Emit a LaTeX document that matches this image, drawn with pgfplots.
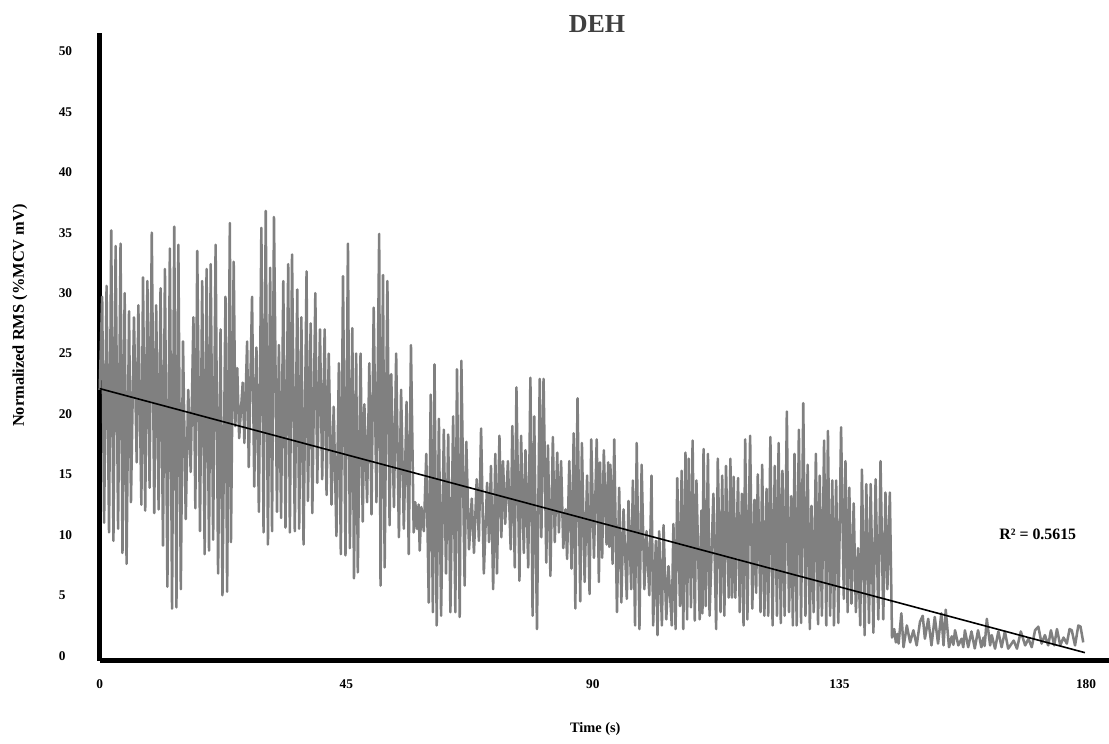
\documentclass[border=0pt]{standalone}
\usepackage{fontspec}
\setmainfont{Liberation Serif}
\usepackage{pgfplots}
\pgfplotsset{compat=1.18}
\definecolor{sig}{RGB}{128,128,128}
\definecolor{ttl}{RGB}{64,64,64}
\begin{document}
\begin{tikzpicture}
\path[use as bounding box] (-74.8pt,-62.6pt) rectangle (757pt,495.4pt);
\begin{axis}[
  at={(0,0)}, anchor=south west,
  scale only axis, width=757pt, height=470.4pt,
  xmin=0, xmax=184.2, ymin=-0.4, ymax=51.5,
  axis x line=bottom, axis y line=left,
  axis line style={line width=3.4pt,-,black},
  xtick={0,45,90,135,180}, ytick={0,5,...,50},
  major tick length=0pt, tick style={draw=none},
  /pgf/number format/assume math mode=true,
  ticklabel style={font=\bfseries\fontsize{10}{12}\selectfont, inner sep=0pt},
  xticklabel style={anchor=north, yshift=-14.25pt},
  yticklabel style={anchor=west, xshift=-30.9pt},
  title={DEH},
  title style={at={(axis description cs:0.4927,1.0148)}, anchor=center, yshift=-6pt, font=\bfseries\fontsize{19.5}{23}\selectfont, text=ttl, inner sep=0pt},
  xlabel={Time (s)},
  xlabel style={at={(axis description cs:0.491,-0.109)}, anchor=center, font=\bfseries\fontsize{10.8}{13}\selectfont, inner sep=0pt},
  ylabel={Normalized RMS (\%MCV mV)},
  ylabel style={at={(axis description cs:-0.079,0.372)}, anchor=west, rotate=0, font=\bfseries\fontsize{12.3}{14}\selectfont, inner sep=0pt},
  clip=false,
]
\addplot[sig, line width=1.9pt, line join=round, no marks] coordinates {
(0,22)(0.45,29.7)(0.8,11)(1.25,30.6)(1.7,10.2)(2.1,35.2)(2.5,9.5)(2.9,33.9)(3.35,10.5)(3.8,34.1)(4.15,8.5)(4.55,30)(4.9,7.6)(5.35,28.5)(5.7,12.7)(6.25,28)(6.75,16)(7.05,29)(7.6,12.5)(7.9,31.3)(8.3,12)(8.7,31)(9.1,13.9)(9.5,35)(9.95,11.8)(10.3,29)(10.75,12.1)(11.1,30.4)(11.55,9.1)(11.9,32)(12.35,5.7)(12.8,33.7)(13.2,3.9)(13.6,35.5)(14,4)(14.35,34)(14.8,5.5)(15.2,26)(15.7,11.3)(16.15,22)(16.6,15.2)(17.1,28)(17.45,12.2)(17.8,33.5)(18.3,10.3)(18.7,31)(19.15,8.4)(19.5,32)(19.95,8.7)(20.25,32.4)(20.7,9.6)(21.15,34)(21.6,6.8)(22.05,27)(22.4,5)(22.95,29.7)(23.25,5.3)(23.75,35.8)(23.95,9.4)(24.45,32.6)(24.75,19)(25.1,23.8)(25.45,18)(26.1,22.6)(26.4,17.6)(26.9,26)(27.2,15.6)(27.8,29.7)(28.2,14)(28.6,25.5)(29.05,11.9)(29.5,35.4)(29.9,10.2)(30.3,36.8)(30.7,9.2)(31.1,32.1)(31.45,10.3)(31.8,36.3)(32.35,11.9)(32.7,25.7)(33.1,11.4)(33.5,31)(33.9,10.6)(34.4,32.4)(34.7,10.2)(35.1,33.2)(35.6,10.3)(36.05,30.3)(36.4,10.5)(36.8,28)(37.2,9.2)(37.75,31.8)(38,12.8)(38.5,27.5)(38.8,11.8)(39.35,30)(39.7,14.3)(40.2,27)(40.6,14.6)(41.05,27)(41.4,13.3)(41.8,25)(42.3,12.5)(42.7,20.6)(43.2,9.9)(43.65,24.2)(44,8.4)(44.4,31.4)(44.85,8.3)(45.3,34.1)(45.65,8.9)
(46.1,27.1)(46.4,6.4)(46.8,25)(47.1,6.9)(47.6,25)(48,11.1)(48.3,20.8)(48.8,12.7)(49.2,24.2)(49.6,11.7)(50,28.8)(50.5,12.7)(51,34.9)(51.25,5.8)(51.7,31.5)(52,7.3)(52.5,31)(52.9,10.8)(53.2,23.3)(53.7,12.3)(54.1,25)(54.6,9.8)(55,22)(55.5,10.5)(56,21)(56.4,8.4)(56.8,25.7)(57.3,10.2)(57.6,12.7)(57.9,10.5)(58.2,12.5)(58.4,8.7)(58.7,12.3)(59.15,10.3)(59.6,16.7)(60.05,4.4)(60.4,21.6)(60.8,3.6)(61.1,24.1)(61.5,2.5)(61.9,19.6)(62.3,3.3)(62.8,18.7)(63.2,6.8)(63.6,18.3)(64,3.6)(64.5,19.8)(64.9,3.6)(65.2,23.7)(65.7,3.2)(66,24.4)(66.6,5.8)(66.9,17.7)(67.4,8.8)(67.9,13)(68.3,8.5)(68.8,14.6)(69.2,9.5)(69.6,18.8)(70.1,6.8)(70.7,14.3)(71.05,9.4)(71.4,15.7)(71.8,5.5)(72.2,16.7)(72.5,6.8)(72.95,18.2)(73.3,9.8)(73.6,16.1)(74,10.9)(74.5,16.1)(75,8.8)(75.3,19)(75.75,7.3)(76.05,22.2)(76.6,6.2)(76.9,18.2)(77.4,8.5)(77.7,17)(78.2,7.3)(78.6,23)(79,3.3)(79.3,19.8)(79.8,2.2)(80.3,22.9)(80.6,9.8)(81,22.9)(81.5,7.7)(81.8,17.4)(82.25,6.6)(82.7,18.1)(83.05,9.4)(83.5,16.8)(83.8,10.2)(84.2,16.1)(84.6,8.9)(85,12.1)(85.3,8)(85.7,16.1)(86.1,7.2)(86.5,18.4)(86.8,3.9)(87.2,21.3)(87.7,4.5)(88,17.6)(88.5,6.1)(88.95,14.9)(89.4,5.1)(89.7,17.9)(90.2,8.1)
(90.7,17.9)(91.1,6.1)(91.3,16)(91.7,8.1)(92,17)(92.5,9.2)(92.8,16)(93,9)(93.2,15.8)(93.6,7.6)(93.9,17.9)(94.4,3.6)(94.8,13.9)(95.2,4.4)(95.6,12.1)(96.2,4.7)(96.5,12.8)(97,5.5)(97.3,14.5)(97.7,2.5)(98,17.6)(98.5,2.2)(98.9,15.8)(99.4,5.5)(99.8,10.3)(100.3,5)(100.7,14.9)(101,2.5)(101.5,9.5)(101.8,1.7)(102.1,10.3)(102.6,2.5)(102.9,10.8)(103.4,3)(103.8,7.4)(104.4,2.5)(104.7,10.9)(105.1,2.2)(105.4,14.7)(105.9,4.1)(106.2,15.3)(106.5,2.2)(106.9,16.8)(107.2,3)(107.5,16.3)(107.9,4)(108.2,17.8)(108.6,2.9)(108.9,14.5)(109.5,3)(109.8,12)(110,3.5)(110.2,17.1)(110.6,4.1)(111,16.7)(111.3,3.3)(112,13.4)(112.5,2.2)(112.8,16.3)(113.3,3.6)(113.6,14.9)(114,3.3)(114.3,15.7)(114.8,4.8)(115.1,16.3)(115.4,4.8)(115.7,14.8)(116,4.8)(116.5,14.7)(116.8,3.6)(117.2,13.4)(117.5,2.5)(117.8,17.9)(118.2,3)(118.7,18.2)(119.1,3.9)(119.5,12.9)(119.8,5.2)(120.1,15)(120.6,3.6)(120.9,15.8)(121.3,3.3)(121.7,13.8)(122,3.3)(122.4,18.1)(122.8,2.5)(123.2,15.7)(123.6,3.3)(123.9,17.6)(124.3,2.7)(124.6,15.3)(125,3.3)(125.4,20.2)(125.8,3.6)(126.2,13.2)(126.5,2.5)(126.8,16.7)(127.2,2.5)(127.6,18.7)(128,2.7)(128.4,20.9)(128.8,3.3)(129.2,15.8)(129.6,2.2)(129.9,12.4)(130.3,3.6)(130.7,16.7)(131.1,2.6)(131.4,14.9)(131.8,3.3)(132.2,17.8)(132.6,2.5)(132.9,18.6)(133.3,3.3)(133.7,14.5)(134,2.5)(134.4,14.5)(134.8,2.7)(135.3,18.9)(135.8,4.7)(136.1,16.1)(136.5,3.6)(136.8,13.9)(137.2,4.3)(137.6,12.6)(138,3.6)(138.4,8.9)(138.8,2.5)(139.1,15.4)(139.6,1.7)(139.9,14.2)(140.4,2.7)(140.7,14.2)(141.2,1.9)(141.6,14.6)(142.1,3)(142.5,16.1)(143,3)(143.4,13.5)(143.75,5.5)(144.2,13.5)(144.6,1.5)
(145,2.2)(145.3,1.1)(145.6,1.8)(145.8,1)(146.3,3.5)(146.7,0.7)(147.3,2.5)(147.9,1.1)(148.5,2.1)(149.1,0.85)(149.7,2.8)(150.2,3.3)(150.6,1.4)(151.2,3.05)(151.8,0.85)(152.4,3.2)(153,1)(153.6,3.5)(154,0.85)(154.4,3.8)(155,0.7)(155.5,1.6)(155.8,0.9)(156.1,2.1)(156.7,0.85)(157.3,1.4)(157.6,0.7)(157.9,2.1)(158.5,0.7)(159.1,2)(159.7,0.6)(160.3,2.1)(160.9,0.7)(161.3,1.5)(161.5,0.8)(161.9,3.05)(162.5,0.85)(162.8,1.7)(163.4,0.58)(164,2)(164.6,0.7)(165.2,2)(165.8,0.58)(166.8,1.25)(167.4,0.58)(168.1,2)(168.9,0.85)(169.5,1.4)(170.1,0.7)(170.7,2.1)(171.3,2.4)(171.9,1)(172.5,1.7)(173.1,0.85)(173.6,2.1)(174.2,0.85)(174.7,2.2)(175.3,0.85)(175.9,1.5)(176.5,1)(177,2.2)(177.4,2.1)(178,0.85)(178.6,2.5)(179,2.4)(179.5,1.1)
};
\addplot[black, line width=1.2pt, no marks] coordinates {(0,22.1)(179.8,0.25)};
\node[font=\bfseries\fontsize{11.9}{14}\selectfont, inner sep=0pt] at (axis cs:171.2,10) {R² = 0.5615};
\end{axis}
\end{tikzpicture}
\end{document}
